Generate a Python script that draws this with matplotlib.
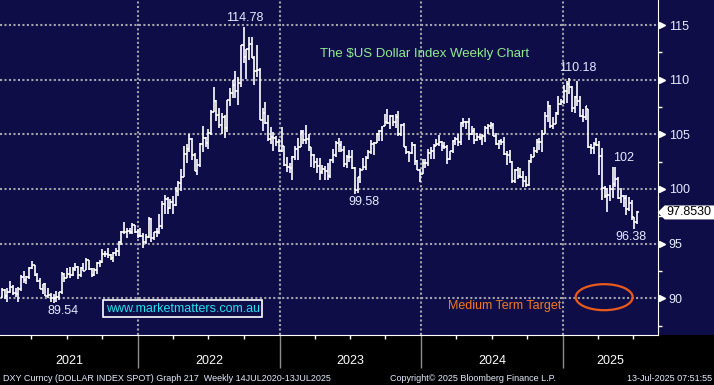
import numpy as np
import pandas as pd
import matplotlib
matplotlib.use("Agg")
import matplotlib.pyplot as plt
import matplotlib.dates as mdates
import matplotlib.transforms as mtransforms
from matplotlib.patches import Ellipse, Polygon, Rectangle

plt.rcParams["font.family"] = ["Liberation Sans", "DejaVu Sans"]

# DXY weekly bars, week ending Friday, 15-Jan-2021 .. 11-Jul-2025
first_week = "2021-01-15"
first_open = 90.10

week_high = [
    # 2021
    90.95, 90.86, 90.94, 91.60, 91.17, 90.95, 91.05, 92.11, 92.51, 92.05,
    92.89, 93.44, 93.05, 92.29, 91.82, 91.35, 91.44, 90.91, 90.48, 90.38,
    90.63, 90.55, 92.41, 92.35, 92.74, 92.84, 92.83, 93.19, 92.95, 92.87,
    93.19, 93.73, 93.47, 92.80, 92.76, 93.31, 93.53, 94.50, 94.30, 94.56,
    94.03, 94.20, 94.64, 95.26, 96.18, 96.94, 96.46, 96.44, 96.90, 96.74,
    96.34,
    # 2022
    96.47, 95.94, 95.88, 97.44, 97.36, 96.10, 96.43, 97.74, 98.93, 99.42,
    99.29, 99.10, 99.37, 100.19, 100.76, 101.86, 103.93, 104.07, 105.01, 104.64,
    103.29, 102.74, 104.24, 105.79, 104.79, 105.47, 107.27, 109.29, 108.10, 107.43,
    106.93, 106.81, 108.16, 109.27, 109.99, 110.79, 110.25, 113.19, 114.78, 112.84,
    113.92, 113.95, 112.15, 113.15, 111.04, 107.39, 107.99, 106.77, 105.63, 105.21,
    104.85, 104.57,
    # 2023
    105.63, 103.95, 102.90, 102.39, 103.01, 103.96, 104.67, 105.36, 105.36, 105.88,
    105.06, 103.83, 103.16, 102.80, 102.84, 102.20, 102.09, 102.40, 102.73, 103.63,
    104.42, 104.70, 104.40, 103.95, 103.14, 103.54, 103.55, 102.05, 101.09, 101.92,
    102.84, 102.99, 103.59, 104.44, 104.26, 105.16, 105.43, 105.78, 106.84, 107.35,
    106.73, 106.78, 106.89, 107.11, 105.99, 106.08, 103.96, 103.46, 104.26, 104.09,
    102.68, 101.83,
    # 2024
    102.73, 102.76, 103.69, 103.82, 104.07, 104.60, 104.97, 104.40, 104.29, 103.99,
    103.48, 104.49, 104.73, 105.05, 106.11, 106.52, 106.22, 106.49, 105.74, 105.54,
    105.12, 105.02, 105.06, 105.80, 105.91, 106.13, 106.03, 105.16, 104.45, 104.55,
    104.78, 103.43, 103.54, 102.58, 101.80, 101.97, 101.92, 101.60, 101.16, 102.69,
    103.18, 103.87, 104.57, 104.63, 105.44, 107.07, 108.09, 107.67, 106.59, 107.05,
    108.54, 108.19,
    # 2025
    109.54, 109.85, 110.18, 109.41, 108.52, 109.88, 108.52, 107.30, 107.61, 107.36,
    104.16, 104.31, 104.68, 104.36, 103.75, 100.26, 100.13, 100.38, 101.98, 102.00,
    101.10, 100.13, 99.43, 99.41, 99.23, 98.96, 97.42, 97.98,
]

week_low = [
    # 2021
    89.99, 89.95, 89.68, 90.52, 90.27, 90.13, 89.68, 90.64, 91.39, 91.30,
    91.78, 92.65, 92.03, 91.45, 90.81, 90.42, 90.19, 89.98, 89.65, 89.54,
    89.66, 89.80, 90.40, 91.51, 91.82, 91.86, 92.00, 92.50, 91.78, 91.94,
    92.45, 92.60, 92.62, 91.94, 92.02, 92.23, 92.88, 93.20, 93.76, 93.72,
    93.50, 93.28, 93.87, 93.87, 94.91, 95.92, 95.52, 95.86, 95.85, 95.99,
    95.53,
    # 2022
    95.58, 94.63, 94.99, 95.53, 95.14, 95.29, 95.60, 95.92, 96.38, 97.73,
    97.71, 98.20, 97.68, 98.45, 99.39, 99.82, 101.06, 102.35, 103.42, 102.65,
    101.64, 101.30, 102.03, 103.41, 103.86, 103.67, 104.91, 107.03, 106.21, 105.58,
    105.04, 104.64, 105.20, 107.58, 108.31, 108.36, 107.68, 109.31, 111.55, 110.05,
    111.77, 111.96, 109.54, 110.24, 106.28, 105.34, 105.94, 104.35, 104.11, 103.45,
    103.92, 103.42,
    # 2023
    103.38, 102.10, 101.53, 101.50, 100.82, 102.64, 102.62, 103.84, 104.08, 104.10,
    103.44, 102.02, 101.93, 101.46, 100.79, 101.41, 100.86, 100.79, 101.01, 102.40,
    102.94, 103.41, 103.35, 102.00, 101.91, 102.48, 101.79, 99.58, 99.66, 100.55,
    101.73, 101.74, 102.71, 103.23, 103.11, 104.23, 104.40, 104.42, 105.73, 105.94,
    105.53, 105.80, 105.56, 104.85, 104.84, 103.80, 103.16, 102.46, 103.23, 102.20,
    101.70, 100.62,
    # 2024
    101.34, 101.91, 102.10, 102.76, 102.77, 103.92, 103.97, 103.44, 103.67, 102.33,
    102.68, 103.33, 104.04, 103.89, 104.06, 105.71, 105.47, 104.52, 104.96, 104.08,
    104.40, 104.44, 103.99, 104.29, 105.01, 105.52, 104.83, 104.06, 103.65, 104.06,
    103.10, 102.16, 102.36, 100.59, 100.52, 100.88, 100.98, 100.21, 100.16, 100.26,
    102.34, 102.95, 103.26, 103.57, 103.37, 105.04, 106.10, 105.62, 105.52, 105.97,
    106.75, 107.66,
    # 2025
    107.75, 107.91, 108.71, 107.05, 106.97, 107.56, 106.56, 106.12, 106.33, 103.74,
    103.21, 103.20, 103.96, 101.26, 99.01, 99.21, 97.92, 98.93, 99.17, 100.15,
    99.10, 98.69, 98.35, 97.60, 97.94, 97.13, 96.38, 96.75,
]

week_close = [
    # 2021
    90.77, 90.23, 90.58, 91.03, 90.48, 90.36, 90.88, 91.98, 91.67, 91.92,
    92.77, 93.02, 92.16, 91.56, 90.86, 91.28, 90.22, 90.33, 89.99, 90.03,
    90.13, 90.55, 92.23, 91.85, 92.23, 92.12, 92.68, 92.90, 92.17, 92.80,
    92.52, 93.46, 92.68, 92.13, 92.58, 93.20, 93.33, 94.04, 94.08, 93.97,
    93.64, 94.12, 94.32, 95.12, 96.03, 96.08, 96.16, 96.08, 96.67, 96.03,
    95.67,
    # 2022
    95.74, 95.17, 95.64, 97.28, 95.48, 96.04, 96.03, 96.62, 98.65, 99.12,
    98.23, 98.80, 98.57, 99.80, 100.52, 101.12, 103.21, 103.67, 104.56, 103.14,
    101.67, 102.15, 104.15, 104.65, 104.21, 105.13, 107.02, 108.07, 106.73, 105.85,
    106.62, 105.58, 108.16, 108.82, 109.54, 109.00, 109.72, 113.19, 112.12, 112.79,
    113.31, 111.99, 110.75, 110.87, 106.30, 106.93, 106.02, 104.55, 104.80, 104.70,
    104.31, 103.52,
    # 2023
    103.89, 102.20, 102.01, 101.92, 102.92, 103.63, 103.86, 105.21, 104.52, 104.58,
    103.83, 103.12, 102.51, 102.09, 101.55, 101.83, 101.66, 101.23, 102.68, 103.14,
    104.22, 104.01, 103.55, 102.28, 102.88, 102.91, 101.88, 99.91, 101.07, 101.70,
    102.03, 102.84, 103.38, 104.09, 104.24, 105.06, 105.32, 105.59, 106.17, 106.04,
    106.66, 106.16, 106.56, 105.02, 105.87, 103.88, 103.41, 103.28, 104.01, 102.58,
    101.72, 101.38,
    # 2024
    102.42, 102.40, 103.29, 103.45, 103.92, 104.10, 104.29, 103.94, 103.86, 102.70,
    103.43, 104.43, 104.55, 104.30, 106.04, 106.15, 106.09, 105.03, 105.30, 104.45,
    104.72, 104.67, 104.89, 105.55, 105.80, 105.87, 104.88, 104.09, 104.40, 104.32,
    103.21, 103.14, 102.45, 100.72, 101.70, 101.19, 101.10, 100.72, 100.38, 102.52,
    102.89, 103.49, 104.26, 104.28, 104.99, 106.68, 107.55, 105.74, 105.96, 106.99,
    107.79, 108.00,
    # 2025
    108.95, 109.65, 109.35, 107.44, 108.37, 108.04, 106.71, 106.62, 107.56, 103.84,
    103.72, 104.09, 104.04, 103.02, 100.10, 99.38, 99.47, 100.03, 100.42, 100.90,
    99.16, 99.35, 99.19, 98.18, 98.71, 97.40, 96.97, 97.85,
]

last_price = 97.8530
price_ticks = [90, 95, 100, 105, 110, 115]
year_labels = ["2021", "2022", "2023", "2024", "2025"]

# highs / lows that get a number printed next to them: (text, week, side, dx px)
marked = [
    ("114.78", "2022-09-30", "high", 1),
    ("110.18", "2025-01-17", "high", 8),
    ("102", "2025-05-16", "high", 8),
    ("99.58", "2023-07-14", "low", 9),
    ("89.54", "2021-05-28", "low", 10),
    ("96.38", "2025-07-04", "low", -3),
]

NAVY = "#0f0d48"
GRID = "#a3a3ab"
LABEL = "#e4ecff"

# ----------------------------------------------------------------------
weeks = pd.date_range(first_week, periods=len(week_close), freq="7D")
x = mdates.date2num(weeks)
high = np.array(week_high)
low = np.array(week_low)
close = np.array(week_close)
opens = np.clip(np.r_[first_open, close[:-1]], low, high)

fig = plt.figure(figsize=(7.14, 3.85), dpi=100)
fig.patch.set_facecolor(NAVY)
# black strip under the chart
fig.add_artist(Rectangle((0, 0), 1, 50 / 385, transform=fig.transFigure,
                         facecolor="black", edgecolor="none", zorder=-1))

ax = fig.add_axes([0, 50 / 385, 657.7 / 714, 335 / 385])
ax.set_facecolor(NAVY)

x_left = mdates.date2num(pd.Timestamp("2021-01-10"))
x_right = mdates.date2num(pd.Timestamp("2025-09-02"))
ax.set_xlim(x_left, x_right)
ax.set_ylim(86.64, 117.29)

# OHLC bars
tick = 3.5
ax.vlines(x, low, high, color="white", lw=1.2, zorder=3)
ax.hlines(opens, x - tick, x, color="white", lw=1.2, zorder=3)
ax.hlines(close, x, x + tick, color="white", lw=1.2, zorder=3)

# axes / spines
for side in ["top", "left"]:
    ax.spines[side].set_visible(False)
ax.spines["right"].set_color("white")
ax.spines["bottom"].set_color("white")

year_starts = [pd.Timestamp(f"{y}-01-01") for y in range(2022, 2026)]
quarters = [d for d in pd.date_range("2021-04-01", "2025-08-01", freq="QS")
            if d.month != 1]
ax.set_xticks(mdates.date2num(year_starts))
ax.set_xticks(mdates.date2num(quarters), minor=True)
ax.tick_params(axis="x", which="major", length=24, width=1, color="#8c8c8c",
               labelbottom=False)
ax.tick_params(axis="x", which="minor", length=3, width=1, color="white")

ax.yaxis.tick_right()
ax.set_yticks(price_ticks)
ax.set_yticks([p + 2.5 for p in [85] + price_ticks[:-1]], minor=True)
ax.tick_params(axis="y", which="major", length=0, pad=8, labelsize=9,
               labelcolor=LABEL)
ax.tick_params(axis="y", which="minor", length=3, width=1, color="white")
ax.set_ylim(86.64, 117.29)

ax.grid(True, which="major", color=GRID, linestyle=(0, (1, 1.15)), linewidth=1.5)
ax.set_axisbelow(True)

# right pointing markers at the price ticks
ymix = mtransforms.blended_transform_factory(ax.transAxes, ax.transData)
ax.plot([1.0065] * len(price_ticks), price_ticks, ls="none", marker=">",
        ms=5, color="white", transform=ymix, clip_on=False)

# year labels centred in the visible part of each year
xmix = mtransforms.blended_transform_factory(ax.transData, ax.transAxes)
for lab in year_labels:
    a = max(mdates.date2num(pd.Timestamp(f"{lab}-01-01")), x_left)
    b = min(mdates.date2num(pd.Timestamp(f"{int(lab) + 1}-01-01")), x_right)
    ax.text((a + b) / 2, -0.078, lab, transform=xmix, ha="center", va="center",
            fontsize=9, color="white", clip_on=False)

# marked highs / lows
for txt, wk, side, dx in marked:
    i = int(np.argmin(np.abs(x - mdates.date2num(pd.Timestamp(wk)))))
    if side == "high":
        ax.annotate(txt, (x[i], high[i]), xytext=(dx * 0.72, 4.5),
                    textcoords="offset points", ha="center", va="baseline",
                    fontsize=9, color=LABEL)
    else:
        ax.annotate(txt, (x[i], low[i]), xytext=(dx * 0.72, -1.5),
                    textcoords="offset points", ha="center", va="top",
                    fontsize=9, color=LABEL)

# last price tag
c = last_price
tag = Polygon([(1.0, c), (1.0106, c + 0.64), (1.09, c + 0.64),
               (1.09, c - 0.64), (1.0106, c - 0.64)], closed=True,
              transform=ymix, facecolor="white", edgecolor="none",
              clip_on=False, zorder=5)
ax.add_patch(tag)
ax.text(1.048, c, f"{last_price:.4f}", transform=ymix, ha="center",
        va="center", fontsize=9, color="black", clip_on=False, zorder=6)

# notes on the chart
ax.text(0.646, 0.839, "The $US Dollar Index Weekly Chart", transform=ax.transAxes,
        ha="center", va="center", fontsize=9.5, color="#8fec8f")
ax.text(0.278, 0.079, "www.marketmatters.com.au", transform=ax.transAxes,
        ha="center", va="center", fontsize=9, color="#22e2f4",
        bbox=dict(boxstyle="square,pad=0.2", facecolor=NAVY, edgecolor="white",
                  linewidth=1.2))
ax.text(0.768, 0.0866, "Medium Term Target", transform=ax.transAxes,
        ha="center", va="center", fontsize=9, color="#f27a1e")
ax.add_patch(Ellipse((mdates.date2num(pd.Timestamp("2025-04-17")), 90.1),
                     width=147, height=2.38, facecolor="none",
                     edgecolor="#ea5a1a", lw=1.6, zorder=4))

# footer
fig.text(0.004, 0.018, "DXY Curncy (DOLLAR INDEX SPOT) Graph 217  Weekly 14JUL2020-13JUL2025",
         fontsize=6.5, color=LABEL, va="center")
fig.text(0.546, 0.018, "Copyright\u00a9 2025 Bloomberg Finance L.P.",
         fontsize=6.5, color=LABEL, va="center")
fig.text(0.998, 0.018, "13-Jul-2025 07:51:55", fontsize=6.5, color=LABEL,
         va="center", ha="right")

fig.savefig("out.png", dpi=100, facecolor=fig.get_facecolor())
